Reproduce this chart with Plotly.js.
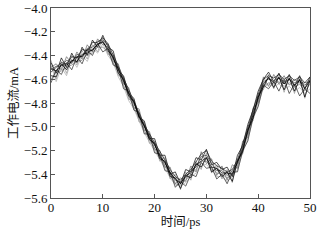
<!DOCTYPE html>
<html><head><meta charset="utf-8">
<script src="https://cdn.plot.ly/plotly-3.0.1.min.js"></script>
<style>html,body{margin:0;padding:0;background:#fff;}#chart{width:333px;height:241px;}</style>
</head><body><div id="chart"></div>
<script>
const timePs = [0,1,2,3,4,5,6,7,8,9,10,11,12,13,14,15,16,17,18,19,20,21,22,23,24,25,26,27,28,29,30,31,32,33,34,35,36,37,38,39,40,41,42,43,44,45,46,47,48,49,50];
const runA = [-4.46,-4.55,-4.42,-4.50,-4.38,-4.46,-4.33,-4.40,-4.27,-4.33,-4.23,-4.33,-4.36,-4.53,-4.57,-4.72,-4.76,-4.92,-4.95,-5.10,-5.10,-5.24,-5.24,-5.40,-5.38,-5.48,-5.36,-5.38,-5.26,-5.28,-5.19,-5.32,-5.30,-5.36,-5.34,-5.42,-5.24,-5.16,-4.98,-4.86,-4.70,-4.60,-4.54,-4.62,-4.55,-4.64,-4.56,-4.66,-4.57,-4.68,-4.58];
const runB = [-4.63,-4.52,-4.56,-4.46,-4.52,-4.41,-4.47,-4.36,-4.40,-4.30,-4.37,-4.34,-4.48,-4.50,-4.68,-4.70,-4.86,-4.88,-5.06,-5.06,-5.22,-5.23,-5.37,-5.38,-5.51,-5.46,-5.50,-5.40,-5.42,-5.30,-5.35,-5.34,-5.44,-5.40,-5.48,-5.38,-5.38,-5.20,-5.12,-4.92,-4.83,-4.65,-4.68,-4.62,-4.70,-4.60,-4.72,-4.64,-4.74,-4.68,-4.72];
const runC = [-4.50,-4.47,-4.52,-4.41,-4.47,-4.37,-4.43,-4.31,-4.37,-4.26,-4.31,-4.30,-4.45,-4.47,-4.64,-4.67,-4.84,-4.85,-5.03,-5.04,-5.19,-5.20,-5.34,-5.34,-5.48,-5.43,-5.46,-5.33,-5.38,-5.21,-5.31,-5.27,-5.41,-5.33,-5.45,-5.32,-5.35,-5.12,-5.09,-4.84,-4.80,-4.58,-4.66,-4.56,-4.64,-4.57,-4.65,-4.60,-4.63,-4.63,-4.62];
const runD = [-4.57,-4.58,-4.47,-4.52,-4.44,-4.45,-4.39,-4.38,-4.35,-4.31,-4.28,-4.36,-4.41,-4.55,-4.60,-4.74,-4.79,-4.92,-4.99,-5.11,-5.14,-5.27,-5.29,-5.42,-5.43,-5.52,-5.41,-5.43,-5.31,-5.34,-5.26,-5.38,-5.35,-5.42,-5.38,-5.46,-5.29,-5.21,-5.03,-4.93,-4.75,-4.67,-4.58,-4.67,-4.58,-4.69,-4.59,-4.70,-4.60,-4.75,-4.61];
const runE = [-4.44,-4.60,-4.45,-4.55,-4.40,-4.48,-4.36,-4.43,-4.31,-4.37,-4.25,-4.39,-4.39,-4.57,-4.58,-4.77,-4.77,-4.96,-4.96,-5.14,-5.12,-5.29,-5.26,-5.44,-5.40,-5.53,-5.38,-5.45,-5.29,-5.36,-5.22,-5.39,-5.32,-5.44,-5.36,-5.47,-5.27,-5.23,-5.00,-4.95,-4.72,-4.69,-4.56,-4.68,-4.55,-4.71,-4.57,-4.72,-4.58,-4.76,-4.59];
const runF = [-4.52,-4.49,-4.49,-4.44,-4.46,-4.39,-4.41,-4.34,-4.33,-4.28,-4.27,-4.31,-4.43,-4.50,-4.62,-4.71,-4.80,-4.90,-5.00,-5.08,-5.16,-5.23,-5.31,-5.38,-5.45,-5.47,-5.43,-5.37,-5.34,-5.25,-5.24,-5.31,-5.37,-5.37,-5.41,-5.37,-5.31,-5.17,-5.05,-4.88,-4.77,-4.62,-4.60,-4.61,-4.59,-4.62,-4.60,-4.63,-4.61,-4.65,-4.61];
const runG = [-4.48,-4.62,-4.50,-4.57,-4.43,-4.50,-4.40,-4.45,-4.34,-4.38,-4.30,-4.40,-4.46,-4.58,-4.66,-4.78,-4.85,-4.95,-5.05,-5.13,-5.20,-5.28,-5.35,-5.43,-5.49,-5.50,-5.47,-5.42,-5.39,-5.31,-5.32,-5.36,-5.42,-5.42,-5.46,-5.42,-5.36,-5.22,-5.10,-4.94,-4.82,-4.67,-4.64,-4.66,-4.64,-4.68,-4.66,-4.70,-4.67,-4.72,-4.68];
const runH = [-4.54,-4.50,-4.46,-4.47,-4.41,-4.42,-4.35,-4.36,-4.29,-4.29,-4.25,-4.30,-4.39,-4.49,-4.59,-4.69,-4.78,-4.88,-4.98,-5.06,-5.13,-5.21,-5.28,-5.36,-5.42,-5.45,-5.40,-5.36,-5.30,-5.23,-5.20,-5.29,-5.33,-5.35,-5.38,-5.36,-5.28,-5.15,-5.01,-4.86,-4.73,-4.60,-4.57,-4.59,-4.56,-4.60,-4.57,-4.61,-4.58,-4.63,-4.58];
const runI = [-4.60,-4.54,-4.53,-4.50,-4.48,-4.45,-4.44,-4.39,-4.38,-4.33,-4.33,-4.37,-4.46,-4.54,-4.65,-4.74,-4.83,-4.93,-5.03,-5.11,-5.19,-5.26,-5.33,-5.41,-5.48,-5.49,-5.45,-5.40,-5.36,-5.29,-5.29,-5.35,-5.39,-5.40,-5.43,-5.41,-5.33,-5.20,-5.07,-4.92,-4.79,-4.66,-4.63,-4.64,-4.62,-4.66,-4.63,-4.67,-4.64,-4.70,-4.64];
const runJ = [-4.51,-4.53,-4.48,-4.48,-4.45,-4.41,-4.41,-4.35,-4.36,-4.30,-4.29,-4.34,-4.42,-4.51,-4.61,-4.72,-4.79,-4.91,-4.99,-5.09,-5.15,-5.25,-5.30,-5.39,-5.44,-5.48,-5.41,-5.39,-5.32,-5.29,-5.26,-5.34,-5.35,-5.39,-5.39,-5.40,-5.29,-5.19,-5.03,-4.90,-4.75,-4.64,-4.59,-4.63,-4.59,-4.64,-4.60,-4.65,-4.61,-4.68,-4.61];
const runs = [runG, runE, runC, runI, runB, runA, runF, runH, runD, runJ];
const runColors = ['#b0b0b0','#999999','#707070','#808080','#333333','#111111','#444444','#222222','#000000','#000000'];

const traces = runs.map((r, i) => ({
  x: timePs, y: r, type: 'scatter', mode: 'lines',
  line: {color: runColors[i], width: 0.75}, showlegend: false, hoverinfo: 'skip'
}));

const serif = "'Liberation Serif', 'Times New Roman', serif";
const axisFont = {family: serif, size: 13, color: '#111'};
const titleFont = {family: "'Liberation Serif', 'Noto Sans CJK SC', serif", size: 12.5, color: '#111'};

Plotly.newPlot('chart', traces, {
  width: 333, height: 241,
  margin: {l: 51, r: 23, t: 8, b: 43},
  paper_bgcolor: '#fff', plot_bgcolor: '#fff',
  xaxis: {
    range: [0, 50], tickmode: 'array', tickvals: [0,10,20,30,40,50],
    ticks: 'inside', ticklen: 4, tickcolor: '#555', showgrid: false, zeroline: false,
    showline: true, linecolor: '#555', linewidth: 1, mirror: true,
    tickfont: axisFont, ticklabelstandoff: -3,
    title: {text: '时间/ps', font: titleFont, standoff: 2}
  },
  yaxis: {
    range: [-5.6, -4.0], tickmode: 'array', tickvals: [-5.6,-5.4,-5.2,-5.0,-4.8,-4.6,-4.4,-4.2,-4.0],
    tickformat: '.1f',
    ticks: 'inside', ticklen: 4, tickcolor: '#555', showgrid: false, zeroline: false,
    showline: true, linecolor: '#555', linewidth: 1, mirror: true,
    tickfont: axisFont,
    title: {text: '工作电流/mA', font: titleFont, standoff: 2}
  }
}, {staticPlot: true, displayModeBar: false});
</script></body></html>
